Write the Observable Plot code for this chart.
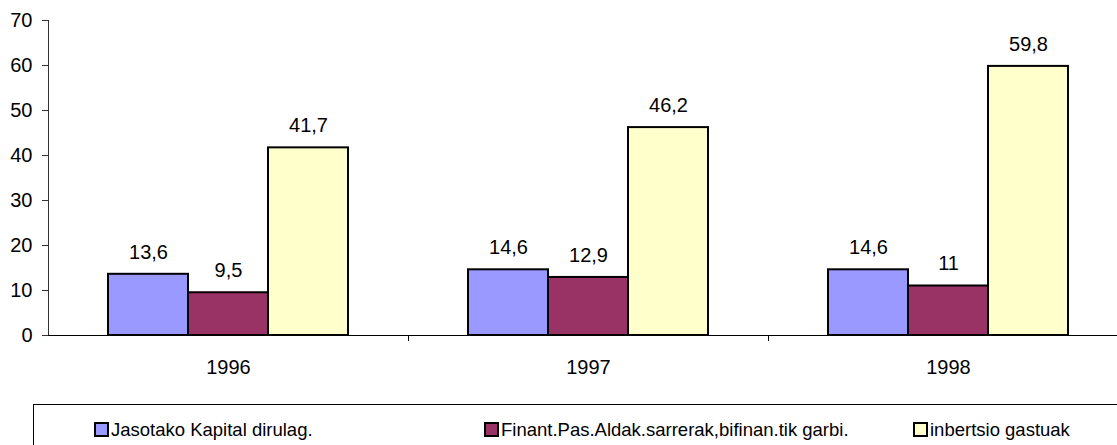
<!DOCTYPE html>
<html>
<head>
<meta charset="utf-8">
<script src="https://cdn.jsdelivr.net/npm/d3@7"></script>
<script src="https://cdn.jsdelivr.net/npm/@observablehq/plot@0.6"></script>
<style>
  html, body { margin: 0; padding: 0; background: white; }
  #wrap { position: relative; width: 1117px; height: 445px; overflow: hidden; font-family: "Liberation Sans", Arial, sans-serif; }
  #legend { position: absolute; left: 33px; top: 404px; width: 1120px; height: 80px; border: 1px solid #000; box-sizing: border-box; }
  .item { position: absolute; top: 15px; font-size: 18.5px; line-height: 20px; color: #000; white-space: nowrap; }
  .sw { display: inline-block; width: 11px; height: 11px; border: 2px solid #000; vertical-align: -1px; margin-right: 2px; }
</style>
</head>
<body>
<div id="wrap">
  <div id="chart"></div>
  <div id="legend"></div>
</div>
<script>
const years = ["1996", "1997", "1998"];
const series = ["Jasotako Kapital dirulag.", "Finant.Pas.Aldak.sarrerak,bifinan.tik garbi.", "inbertsio gastuak"];
const kapital = [13.6, 14.6, 14.6];
const finant = [9.5, 12.9, 11];
const inbertsio = [41.7, 46.2, 59.8];
const yTicks = [0, 10, 20, 30, 40, 50, 60, 70];
const colors = ["#9999FF", "#993366", "#FFFFCC"];

const values = [kapital, finant, inbertsio];
const data = [];
years.forEach((yr, i) => {
  series.forEach((s, j) => {
    data.push({ year: yr, series: s, value: values[j][i], label: String(values[j][i]).replace(".", ",") });
  });
});

// layout
const W = 1117, H = 400, mL = 48, mR = -11, mT = 20, mB = 65;
const padOuter = 0.75;
const groupW = (W - mL - mR) / years.length;
const step = groupW / (series.length + 2 * padOuter);
const firstCenterOffset = padOuter * step + step / 2;
const FS = 20;

const chart = Plot.plot({
  width: W, height: H,
  marginLeft: mL, marginRight: mR, marginTop: mT, marginBottom: mB,
  style: { fontFamily: "'Liberation Sans', Arial, sans-serif", fontSize: FS + "px", color: "#000", background: "white" },
  fx: { domain: years, padding: 0, label: null },
  x: { domain: series, paddingInner: 0, paddingOuter: padOuter, axis: null },
  y: { domain: [0, 70], label: null },
  color: { domain: series, range: colors },
  marks: [
    Plot.axisY(yTicks, { tickSize: 6, tickPadding: 10, fontSize: FS, label: null, tickFormat: d => d, stroke: "#333", fill: "#000" }),
    Plot.axisFx({ anchor: "bottom", tickSize: 0, tickPadding: 24, fontSize: FS, label: null, fill: "#000" }),
    Plot.barY(data, { fx: "year", x: "series", y: "value", fill: "series", stroke: "#000", strokeWidth: 2 }),
    Plot.text(data, { fx: "year", x: "series", y: "value", text: "label", dy: -22, fill: "#000", fontSize: FS }),
    Plot.ruleY([0], { stroke: "#000", strokeWidth: 1 }),
    Plot.ruleX([years[0]], { fx: d => d, x: () => series[0], y1: 0, y2: 70, dx: -firstCenterOffset, stroke: "#333", strokeWidth: 1 }),
    Plot.ruleX(years.slice(1), { fx: d => d, x: () => series[0], y1: 0, y2: 0, insetBottom: -6, dx: -firstCenterOffset, stroke: "#000", strokeWidth: 1 })
  ]
});
document.getElementById("chart").appendChild(chart);

const legendX = [60, 450, 879];
const legend = document.getElementById("legend");
series.forEach((s, j) => {
  const it = document.createElement("div");
  it.className = "item";
  it.style.left = legendX[j] + "px";
  const sw = document.createElement("span");
  sw.className = "sw";
  sw.style.background = colors[j];
  it.appendChild(sw);
  it.appendChild(document.createTextNode(s));
  legend.appendChild(it);
});
</script>
</body>
</html>
